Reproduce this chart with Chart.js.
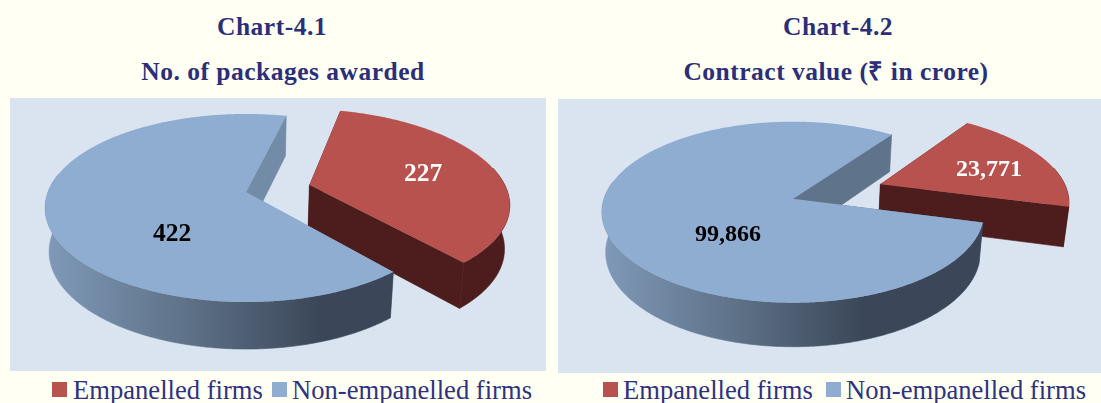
<!DOCTYPE html>
<html><head><meta charset="utf-8">
<script src="https://cdn.jsdelivr.net/npm/chart.js@4/dist/chart.umd.min.js"></script>
<style>
html,body{margin:0;padding:0;background:#FFFFF3;width:1101px;height:403px;overflow:hidden}
.t{position:absolute;transform:translateX(-50%);white-space:nowrap;font:bold 25.5px/30px "Liberation Serif","Times New Roman",serif;color:#2B2E78;letter-spacing:.5px}
.leg{position:absolute;white-space:nowrap;font:26.6px/30px "Liberation Serif","Times New Roman",serif;color:#2F3280}
.sw{position:absolute;width:15px;height:15px}
canvas{position:absolute}
</style></head><body>
<div class="t" id="t1a" style="left:272px;top:12px"></div>
<div class="t" id="t1b" style="left:283px;top:57px"></div>
<div class="t" id="t2a" style="left:838px;top:12px"></div>
<div class="t" id="t2b" style="left:836px;top:57px"></div>
<canvas id="c1" width="536" height="273" style="left:10px;top:98px"></canvas>
<canvas id="c2" width="543" height="274" style="left:558px;top:99px"></canvas>
<script>
const categories = ['Empanelled firms', 'Non-empanelled firms'];
const packagesAwarded = [227, 422];
const contractValue = [23771, 99866];
const titles1 = ['Chart-4.1', 'No. of packages awarded'];
const titles2 = ['Chart-4.2', 'Contract value (₹ in crore)'];
const sliceColors = ['#B8524E', '#8FACD1'];

const RED_WALL = '#4C1D1C';
function projector(v){
  return (u, w) => { const s = 1 / (1 - v.k * w); return [v.cx + v.rx * u * s, v.cy + v.ry * w * s]; };
}
const pie3d = {
  id: 'pie3d',
  beforeDatasetsDraw(chart) {
    const v = chart.options.plugins.pie3d, ctx = chart.ctx, P = projector(v);
    const lower = ([x, y]) => [v.cx + (x - v.cx) * v.fx, y + v.depth + v.g * (y - v.cy)];
    const meta = chart.getDatasetMeta(0);
    const path = pts => { ctx.beginPath(); pts.forEach((p, i) => i ? ctx.lineTo(p[0], p[1]) : ctx.moveTo(p[0], p[1])); ctx.closePath(); };
    meta.data.forEach((el, i) => {
      const off = (el.options.offset || 0) / v.rx;
      const mid = (el.startAngle + el.endAngle) / 2;
      const ou = off * Math.cos(mid), ow = off * Math.sin(mid);
      const rim = [], front = [];
      const n = Math.ceil((el.endAngle - el.startAngle) / (Math.PI / 360));
      for (let j = 0; j <= n; j++) {
        const a = el.startAngle + (el.endAngle - el.startAngle) * j / n;
        const p = P(ou + Math.cos(a), ow + Math.sin(a));
        rim.push(p);
        if (Math.sin(a) > -0.2) front.push(p);
      }
      const apex = P(ou, ow);
      const isRed = i === 0;
      // cut faces
      const face = isRed ? RED_WALL : v.faceColor;
      ctx.fillStyle = face; ctx.strokeStyle = face; ctx.lineWidth = 0.6;
      path([apex, rim[0], lower(rim[0]), lower(apex)]); ctx.fill();
      path([apex, rim[n], lower(rim[n]), lower(apex)]); ctx.fill(); ctx.stroke();
      // outer wall, only the part that faces the viewer
      let wall = RED_WALL;
      if (!isRed) {
        wall = ctx.createLinearGradient(v.gx0, 0, v.gx1, 0);
        wall.addColorStop(0, '#7F99B8');
        wall.addColorStop(0.5, '#5F7389');
        wall.addColorStop(1, '#3B4759');
      }
      ctx.fillStyle = wall; ctx.strokeStyle = wall;
      path(front.concat(front.map(lower).reverse())); ctx.fill(); ctx.stroke();
      // top surface
      ctx.fillStyle = el.options.backgroundColor;
      path([apex].concat(rim)); ctx.fill();
    });
    // value labels
    ctx.font = 'bold ' + v.labelSize + 'px "Liberation Serif","Times New Roman",serif';
    ctx.textAlign = 'center'; ctx.textBaseline = 'middle';
    chart.data.datasets[0].data.forEach((val, i) => {
      ctx.fillStyle = v.labelColors[i];
      ctx.fillText(val.toLocaleString('en-US'), v.cx + v.labelAt[i][0], v.cy + v.labelAt[i][1]);
    });
    return false;
  }
};
function makeChart(id, data, view, offsets, rotation) {
  return new Chart(document.getElementById(id), {
    type: 'pie',
    data: { labels: categories, datasets: [{ data, backgroundColor: sliceColors, borderWidth: 0, offset: offsets }] },
    options: {
      responsive: false, animation: false, rotation,
      layout: { padding: 0 },
      plugins: { legend: { display: false }, title: { display: false }, tooltip: { enabled: false }, pie3d: view }
    },
    plugins: [{ id: 'panel', beforeDraw(c) { c.ctx.fillStyle = '#DAE4F0'; c.ctx.fillRect(0, 0, c.width, c.height); } }, pie3d]
  });
}
makeChart('c1', packagesAwarded, {
  cx: 236, cy: 94, rx: 198, ry: 91.3, k: 0.17, fx: 0.98, depth: 43, g: 0.037,
  faceColor: '#728BA7', gx0: 36, gx1: 310, labelSize: 25.5,
  labelAt: [[177, -18], [-74, 42]], labelColors: ['#FFFFFF', '#000000']
}, [66, 0], 13.7);
makeChart('c2', contractValue, {
  cx: 235, cy: 99.7, rx: 189, ry: 88.5, k: 0.149, fx: 0.98, depth: 39.7, g: 0.042,
  faceColor: '#5F748B', gx0: 44, gx1: 305, labelSize: 24,
  labelAt: [[196, -29], [-65, 36]], labelColors: ['#FFFFFF', '#000000']
}, [95, 0], 35.8);

[['t1a', titles1[0]], ['t1b', titles1[1]], ['t2a', titles2[0]], ['t2b', titles2[1]]].forEach(([id, s]) => { document.getElementById(id).textContent = s; });
function legend(items) {
  items.forEach(([sx, tx], i) => {
    const b = document.createElement('div'); b.className = 'sw';
    b.style.cssText = 'left:' + sx + 'px;top:382px;background:' + sliceColors[i];
    const t = document.createElement('div'); t.className = 'leg';
    t.style.cssText = 'left:' + tx + 'px;top:375px'; t.textContent = categories[i];
    document.body.append(b, t);
  });
}
legend([[52, 73], [272, 292]]);
legend([[603, 623], [826, 846]]);
</script>
</body></html>
